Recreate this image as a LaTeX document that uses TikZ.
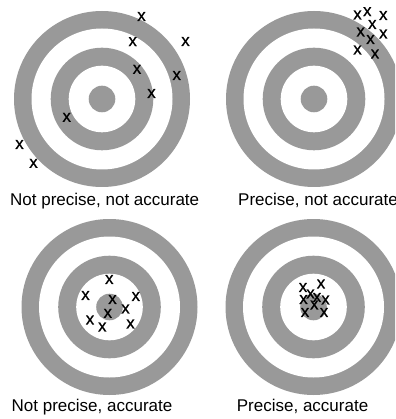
\documentclass[tikz,border=0pt]{standalone}
\usepackage{fontspec}
\setmainfont{Liberation Sans}
\newfontfamily\hitfont[FakeBold=0.6]{Liberation Sans}
\definecolor{ringgray}{RGB}{153,153,153}
\newcommand\drawtarget[1]{%
  \fill[ringgray] (#1) circle[radius=88pt];
  \fill[white] (#1) circle[radius=70.5pt];
  \fill[ringgray] (#1) circle[radius=51.3pt];
  \fill[white] (#1) circle[radius=33.3pt];
  \fill[ringgray] (#1) circle[radius=13.3pt];}
\begin{document}
\begin{tikzpicture}[x=1pt,y=-1pt,
  hit/.style={inner sep=0pt, anchor=center, font=\hitfont\fontsize{17}{17}\selectfont},
  lab/.style={inner sep=0pt, anchor=base west, font=\fontsize{17}{17}\selectfont}]
\useasboundingbox (0,0) rectangle (395,419);
\clip (0,0) rectangle (395,419);
\fill[white] (0,0) rectangle (395,419);
\coordinate (c1) at (102,99);
\coordinate (c2) at (314,99);
\coordinate (c3) at (109.5,307);
\coordinate (c4) at (313.5,307);
\drawtarget{c1}
\drawtarget{c2}
\drawtarget{c3}
\drawtarget{c4}
% target 1
\foreach \p [count=\i] in {(141.5,16.5),(132.7,41.7),(185.5,41.5),(137,69.3),(176.7,75.5),(151.5,93.5),(66.7,117.3),(19.5,144.5),(33.5,163.3)}
  \node[hit] (a\i) at \p {x};
% target 2
\foreach \p [count=\i] in {(357.5,15),(367.3,11.7),(383.3,15.5),(372.3,24.5),(360.7,32),(383.3,34),(370.5,39.5),(357.5,50),(375,54)}
  \node[hit] (b\i) at \p {x};
% target 3
\foreach \p [count=\i] in {(109.3,279.5),(85.5,295.5),(112.5,299.5),(135.8,296.5),(125.5,309),(107.8,313.3),(90,320),(102.3,327),(130.5,324)}
  \node[hit] (d\i) at \p {x};
% target 4
\foreach \p [count=\i] in {(303,287.5),(321,284),(310.5,294),(303.5,299.5),(317,297.5),(325.5,300),(314.3,305),(305,312.5),(324,312.5)}
  \node[hit] (e\i) at \p {x};
\node[lab] (l1) at (10,206) {Not precise, not accurate};
\node[lab] (l2) at (238,206) {Precise, not accurate};
\node[lab] (l3) at (11.5,411) {Not precise, accurate};
\node[lab] (l4) at (236.7,411) {Precise, accurate};
\end{tikzpicture}
\end{document}
